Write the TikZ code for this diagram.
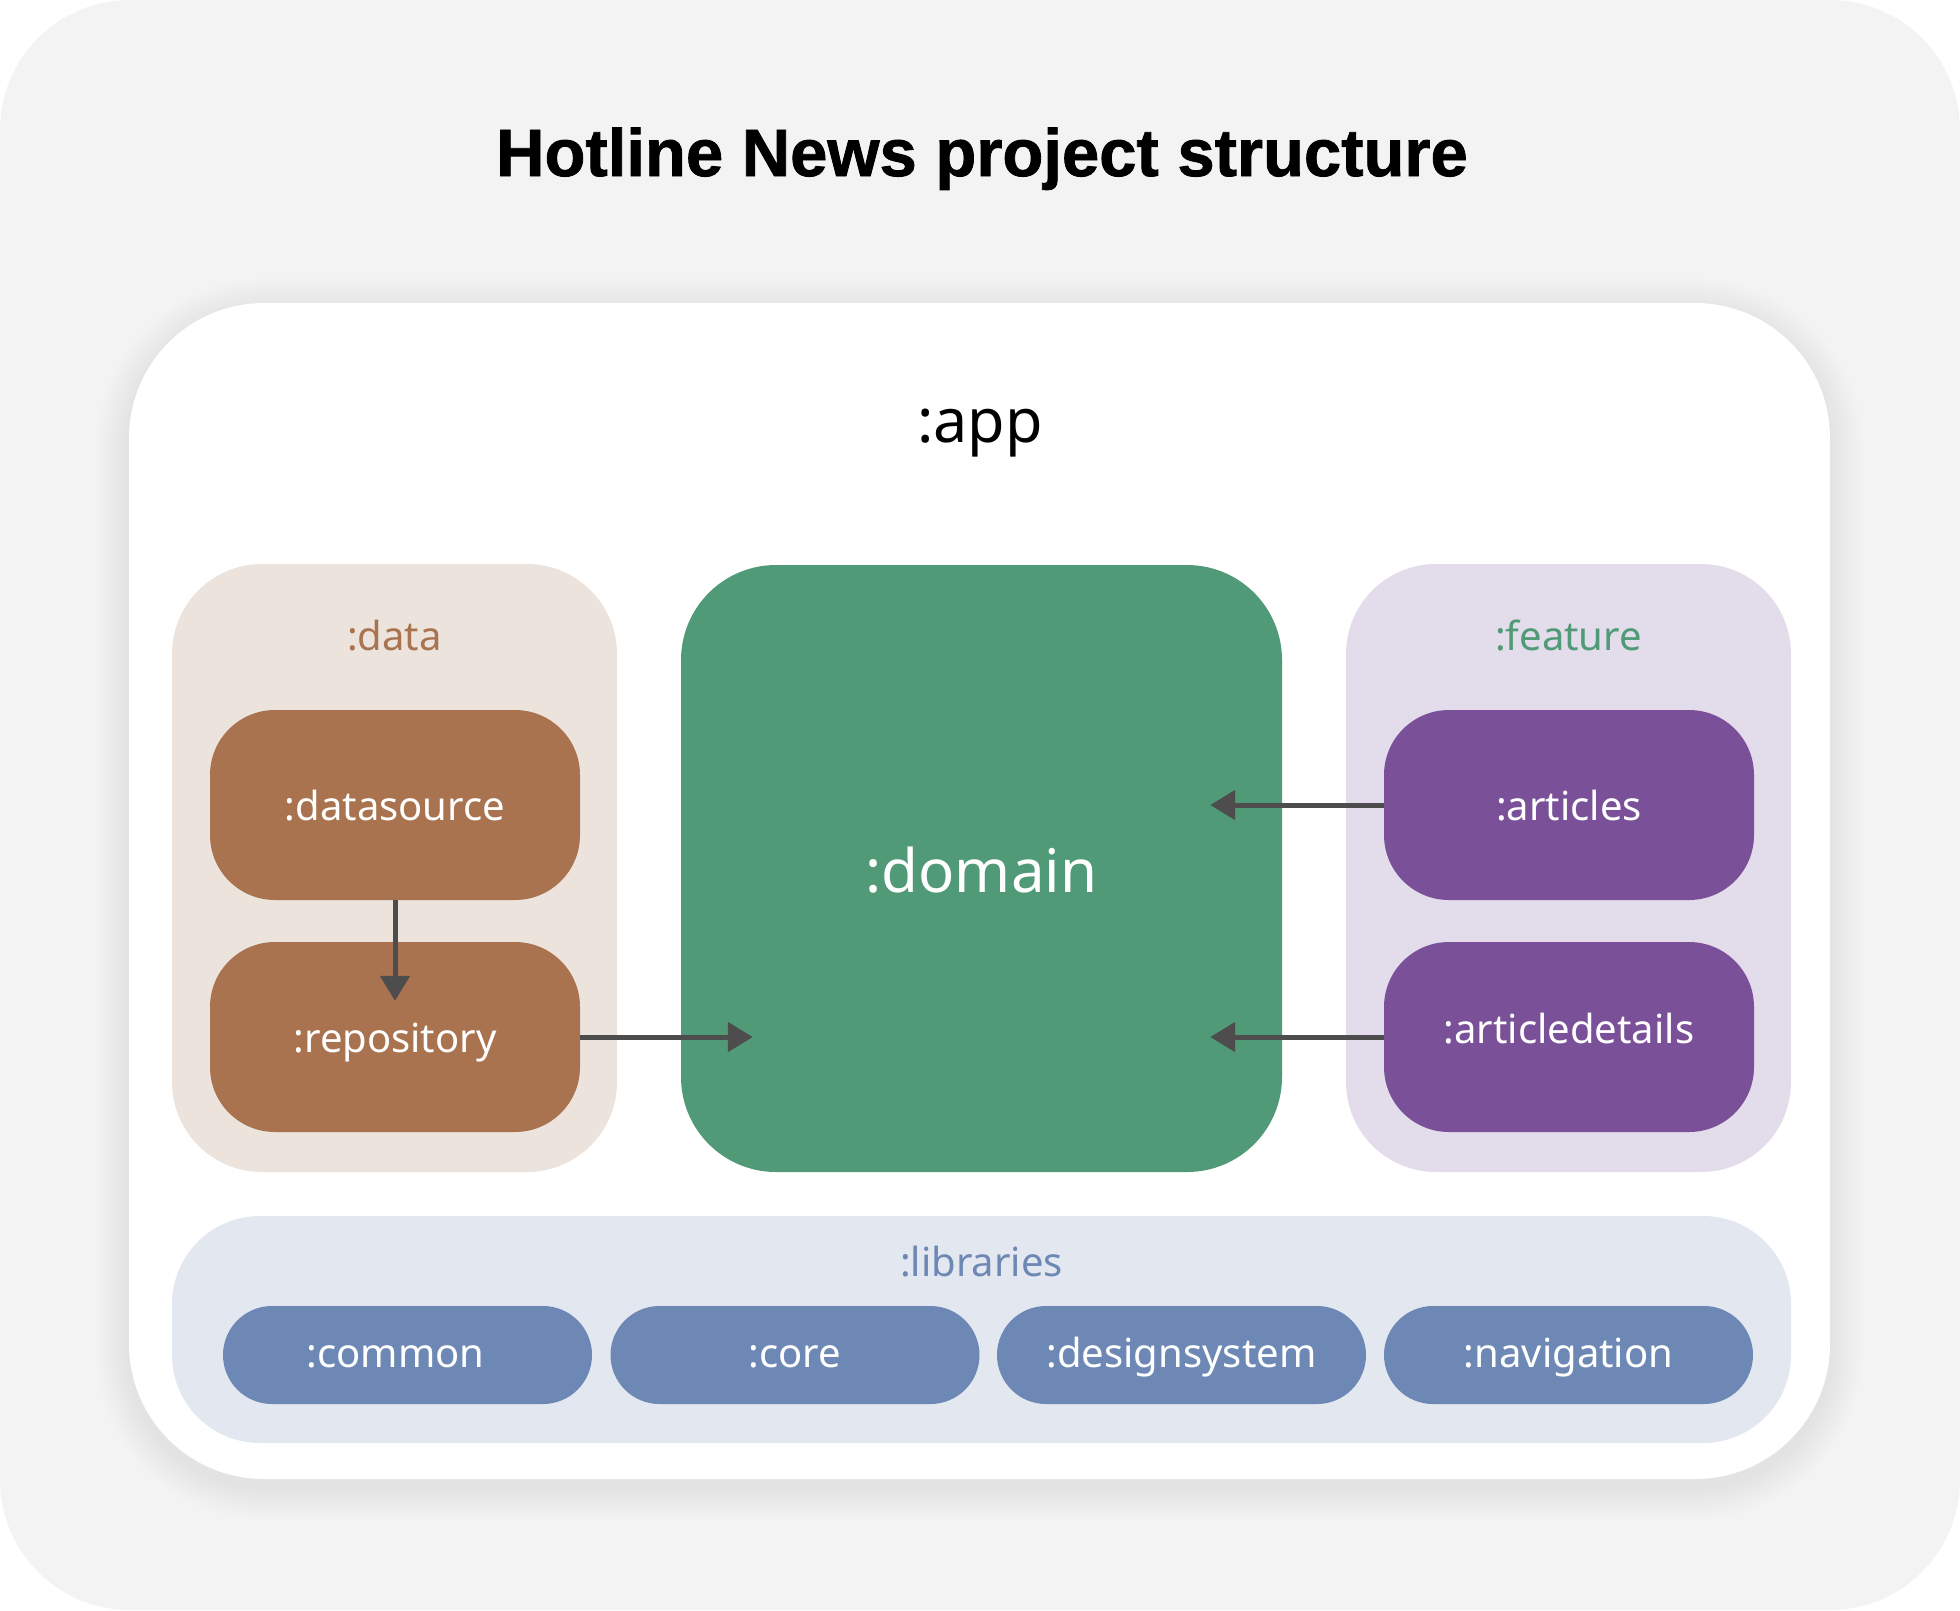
\documentclass[tikz,border=0pt]{standalone}
\usepackage{fontspec}
\setmainfont{Noto Sans}
\newfontfamily\titlefont{Liberation Sans}[BoldFeatures={FakeBold=1.2}]
\usetikzlibrary{arrows.meta,calc}
\definecolor{bgc}{HTML}{F3F3F3}
\definecolor{databg}{HTML}{EDE3DD}
\definecolor{brownc}{HTML}{A9734F}
\definecolor{greenc}{HTML}{519A77}
\definecolor{featbg}{HTML}{E3DCEA}
\definecolor{purplec}{HTML}{7A5199}
\definecolor{libbg}{HTML}{E3E7EF}
\definecolor{bluec}{HTML}{6D88B4}
\definecolor{arrc}{HTML}{4D4D4D}
\begin{document}
\begin{tikzpicture}[x=1pt,y=-1pt,
  txt/.style={font=\fontsize{40pt}{48pt}\selectfont},
  group/.style={rectangle, rounded corners=90pt, inner sep=0pt, minimum width=445pt, minimum height=608pt},
  inbox/.style={rectangle, rounded corners=65pt, inner sep=0pt, minimum width=370pt, minimum height=190pt,
                txt, text=white, text height=30pt, text depth=0pt},
  pill/.style={rectangle, rounded corners=49pt, inner sep=0pt, minimum width=369pt, minimum height=98pt,
                fill=bluec, txt, text=white, text height=24pt, text depth=0pt},
  lbl/.style={inner sep=0pt, anchor=base, txt},
  arr/.style={draw=arrc, line width=5pt, -{Triangle[length=25pt,width=29pt]}}
]
\useasboundingbox (0,0) rectangle (1960,1610);
\fill[bgc, rounded corners=130pt] (0,0) rectangle (1960,1610);
% soft shadow of the app panel
\foreach \i in {1,...,16}{
  \pgfmathsetmacro\rr{135+\i*2}
  \fill[black, opacity=0.003, rounded corners=\rr pt]
    ({129-\i*2},{303-\i*2+8}) rectangle ({1830+\i*2},{1479+\i*2+8});
}
\node[inner sep=0pt, anchor=base, font=\titlefont\bfseries\fontsize{67pt}{79pt}\selectfont] (title) at (982,176) {Hotline News project structure};
\node[rectangle, fill=white, rounded corners=135pt, inner sep=0pt, minimum width=1701pt, minimum height=1176pt] (app) at (979.5,891) {};
\node[lbl, font=\fontsize{61pt}{72pt}\selectfont] (applbl) at (980,442) {:app};
% groups
\node[group, fill=databg] (data) at (394.5,868) {};
\node[lbl, text=brownc] (datalbl) at (394.5,650) {:data};
\node[group, fill=featbg] (feat) at (1568.5,868) {};
\node[lbl, text=greenc] (featlbl) at (1568.5,650) {:feature};
\node[rectangle, fill=greenc, rounded corners=95pt, inner sep=0pt, minimum width=601pt, minimum height=607pt,
      text=white, font=\fontsize{60pt}{72pt}\selectfont, text height=48pt, text depth=0pt] (dom) at (981.5,868.5) {:domain};
\node[rectangle, fill=libbg, rounded corners=88pt, inner sep=0pt, minimum width=1619pt, minimum height=227pt] (libs) at (981.5,1329.5) {};
\node[lbl, text=bluec] (liblbl) at (981.5,1276) {:libraries};
% inner boxes
\node[inbox, fill=brownc] (ds) at (395,805) {:datasource};
\node[inbox, fill=brownc] (rep) at (395,1037) {:repository};
\node[inbox, fill=purplec] (art) at (1569,805) {:articles};
\node[inbox, fill=purplec, text depth=18pt] (artd) at (1569,1037) {:articledetails};
% libraries
\node[pill] (common) at (407.5,1355) {:common\kern24pt};
\node[pill] (core) at (795,1355) {:core};
\node[pill] (dsys) at (1181.5,1355) {:designsystem};
\node[pill] (nav) at (1568.5,1355) {:navigation};
% arrows
\draw[arr] (ds.south) -- ([yshift=-59pt]rep.north);
\draw[arr] (rep.east) -- ($(dom.west |- rep.east)+(72,0)$);
\draw[arr] (art.west) -- ($(dom.east |- art.west)+(-72,0)$);
\draw[arr] (artd.west) -- ($(dom.east |- artd.west)+(-72,0)$);
\end{tikzpicture}
\end{document}
